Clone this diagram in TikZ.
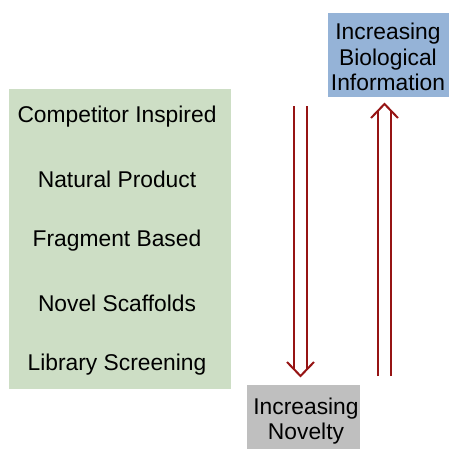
\documentclass[tikz,border=0pt]{standalone}
\usepackage{fontspec}
\setmainfont{Liberation Sans}
\definecolor{boxgreen}{RGB}{205,222,197}
\definecolor{boxblue}{RGB}{149,179,215}
\definecolor{boxgray}{RGB}{191,191,191}
\definecolor{arrowred}{RGB}{150,20,20}
\begin{document}
\begin{tikzpicture}[x=1pt,y=-1pt,
  lbl/.style={font=\fontsize{22.8}{25.5}\selectfont, inner sep=0pt, align=center, text=black},
  arr/.style={draw=arrowred, line width=2pt, line join=miter}]
\useasboundingbox (0,0) rectangle (449,450);
% green panel
\fill[boxgreen] (9,89) rectangle (231,389);
\node[lbl] (c1) at (117,117) {Competitor Inspired};
\node[lbl] (c2) at (117,179) {Natural Product};
\node[lbl] (c3) at (117,241) {Fragment Based};
\node[lbl] (c4) at (117,303) {Novel Scaffolds};
\node[lbl] (c5) at (117,365) {Library Screening};
% blue box
\fill[boxblue] (328,13) rectangle (449,97);
\node[lbl] (bio) at (388,57) {Increasing\\Biological\\Information};
% gray box
\fill[boxgray] (247,385) rectangle (360,449);
\node[lbl] (nov) at (306,421) {Increasing\\Novelty};
% down arrow
\coordinate (d1s) at (294,106); \coordinate (d1e) at (294,369);
\coordinate (d2s) at (307,106); \coordinate (d2e) at (307,369);
\draw[arr] (d1s) -- (d1e);
\draw[arr] (d2s) -- (d2e);
\draw[arr] (287,362) -- (300.5,376) -- (314,362);
% up arrow
\coordinate (u1s) at (378,376); \coordinate (u1e) at (378,111);
\coordinate (u2s) at (391,376); \coordinate (u2e) at (391,111);
\draw[arr] (u1s) -- (u1e);
\draw[arr] (u2s) -- (u2e);
\draw[arr] (371,118) -- (384.5,104) -- (398,118);
\end{tikzpicture}
\end{document}
